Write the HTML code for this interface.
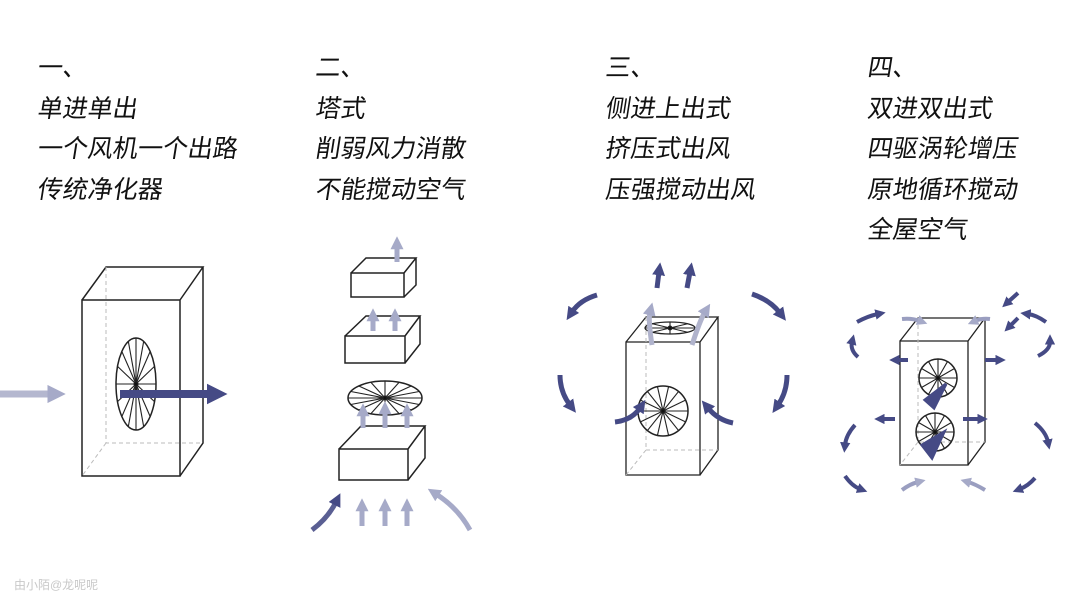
<!DOCTYPE html>
<html><head><meta charset="utf-8"><style>
html,body{margin:0;padding:0;background:#fff;width:1080px;height:608px;overflow:hidden}
.t{position:absolute;font-family:"Liberation Sans","Noto Sans CJK SC",sans-serif;font-size:25px;color:#111;line-height:40.5px}
.t div{transform:skewX(-9deg);transform-origin:left center;white-space:nowrap}
.wm{position:absolute;left:14px;top:576px;font-family:"Liberation Sans","Noto Sans CJK SC",sans-serif;font-size:12px;color:#c8c8c8}
svg{position:absolute;left:0;top:0}
</style></head><body>
<div class="t" style="left:38px;top:48px"><div>一、</div><div>单进单出</div><div>一个风机一个出路</div><div>传统净化器</div></div>
<div class="t" style="left:316px;top:48px"><div>二、</div><div>塔式</div><div>削弱风力消散</div><div>不能搅动空气</div></div>
<div class="t" style="left:606px;top:48px"><div>三、</div><div>侧进上出式</div><div>挤压式出风</div><div>压强搅动出风</div></div>
<div class="t" style="left:868px;top:48px"><div>四、</div><div>双进双出式</div><div>四驱涡轮增压</div><div>原地循环搅动</div><div>全屋空气</div></div>
<div class="wm">由小陌@龙呢呢</div>
<svg id="s" width="1080" height="608" viewBox="0 0 1080 608">
<defs>
<marker id="md" viewBox="0 0 4 4" markerWidth="2.6" markerHeight="2.6" refX="1" refY="2" orient="auto" markerUnits="strokeWidth"><path d="M0,0L4,2L0,4Z" fill="#454a85"/></marker>
<marker id="ml" viewBox="0 0 4 4" markerWidth="2.6" markerHeight="2.6" refX="1" refY="2" orient="auto" markerUnits="strokeWidth"><path d="M0,0L4,2L0,4Z" fill="#a6aac8"/></marker>
</defs>
<g fill="none" stroke="#222" stroke-width="1.5">
<path d="M82,300H180V476H82Z M82,300L106,267H203L180,300 M203,267V443L180,476"/>
<path d="M106,267V443H203 M106,443L82,476" stroke="#bbb" stroke-dasharray="4,3" stroke-width="1"/>
<ellipse cx="136" cy="384" rx="20" ry="46"/>
<path d="M351,273H404V297H351Z M351,273L366,258H416L404,273 M416,258V285L404,297"/>
<path d="M345,336H405V363H345Z M345,336L366,316H420L405,336 M420,316V344L405,363"/>
<ellipse cx="385" cy="398" rx="37" ry="17"/>
<path d="M339,449H408V480H339Z M339,449L361,426H425L408,449 M425,426V458L408,480"/>
<path d="M626,342H700V475H626Z M626,342L646,317H718L700,342 M718,317V450L700,475" stroke-width="1.3"/>
<path d="M646,317V450H718 M646,450L626,475" stroke="#bbb" stroke-dasharray="4,3" stroke-width="1"/>
<ellipse cx="670" cy="328" rx="25" ry="6" stroke-width="1.2"/>
<circle cx="663" cy="411" r="25"/>
<path d="M900,341H968V465H900Z M900,341L918,318H985L968,341 M985,318V442L968,465" stroke-width="1.3"/>
<path d="M918,318V442H985 M918,442L900,465" stroke="#bbb" stroke-dasharray="4,3" stroke-width="1"/>
<circle cx="938" cy="378" r="19"/>
<circle cx="935" cy="432" r="19"/>
</g>
<g id="spokes" stroke="#222" stroke-width="1.1"></g>
<g fill="none" stroke-width="6">
<path d="M0,394H52" stroke="#b4b7cf" stroke-width="7" marker-end="url(#ml)"/>
<path d="M120,394H212" stroke="#454a85" stroke-width="8" marker-end="url(#md)"/>
<g stroke="#a6aac8" stroke-width="5">
<path d="M397,262V246" marker-end="url(#ml)"/>
<path d="M373,331V318" marker-end="url(#ml)"/><path d="M395,331V318" marker-end="url(#ml)"/>
<path d="M363,428V413" marker-end="url(#ml)"/><path d="M385,428V411" marker-end="url(#ml)"/><path d="M407,428V413" marker-end="url(#ml)"/>
<path d="M362,526V508" marker-end="url(#ml)"/><path d="M385,526V508" marker-end="url(#ml)"/><path d="M407,526V508" marker-end="url(#ml)"/>
<path d="M470,530Q458,508 436,494" marker-end="url(#ml)"/>
</g>
<path d="M312,530Q328,518 336,502" stroke="#5a5f93" stroke-width="5" marker-end="url(#md)"/>
<g stroke="#b0b3cc" stroke-width="5"><path d="M652,345Q648,320 650,312" marker-end="url(#ml)"/><path d="M692,345Q700,320 705,312" marker-end="url(#ml)"/></g>
<g stroke="#454a85" stroke-width="5">
<path d="M657,288L659,272" marker-end="url(#md)"/><path d="M687,288L690,272" marker-end="url(#md)"/>
<path d="M597,295Q580,300 572,312" marker-end="url(#md)"/>
<path d="M752,294Q770,300 780,313" marker-end="url(#md)"/>
<path d="M560,375Q560,392 570,405" marker-end="url(#md)"/>
<path d="M787,375Q787,392 778,405" marker-end="url(#md)"/>
<path d="M615,422Q632,420 640,408" marker-end="url(#md)"/>
<path d="M733,423Q718,420 708,408" marker-end="url(#md)"/>
</g>
<g stroke="#454a85" stroke-width="4">
<path d="M1018,293L1008,302" marker-end="url(#md)"/><path d="M1018,318L1010,326" marker-end="url(#md)"/>
<path d="M857,322Q868,316 878,314" marker-end="url(#md)"/>
<path d="M1046,322Q1036,315 1028,314" marker-end="url(#md)"/>
<path d="M858,357Q850,350 852,342" marker-end="url(#md)"/>
<path d="M1038,356Q1050,350 1050,342" marker-end="url(#md)"/>
<path d="M908,360H897" marker-end="url(#md)"/><path d="M985,360H998" marker-end="url(#md)"/>
<path d="M895,419H882" marker-end="url(#md)"/><path d="M963,419H980" marker-end="url(#md)"/>
<path d="M855,425Q846,435 845,445" marker-end="url(#md)"/>
<path d="M1035,423Q1046,432 1048,442" marker-end="url(#md)"/>
<path d="M845,476Q852,486 860,489" marker-end="url(#md)"/>
<path d="M1035,478Q1028,486 1020,489" marker-end="url(#md)"/>
</g>
<g stroke="#9a9ec0" stroke-width="4">
<path d="M902,490Q910,484 918,482" marker-end="url(#ml)"/>
<path d="M985,490Q975,484 968,482" marker-end="url(#ml)"/>
<path d="M902,319Q912,318 920,321" marker-end="url(#ml)"/>
<path d="M990,319Q982,318 975,321" marker-end="url(#ml)"/>
</g>
<path d="M925,400L946,384 L934,408Z M922,445L944,432 L932,458Z" fill="#454a85" stroke="#454a85" stroke-width="3"/>
</g>
</svg>
<script>
var g=document.getElementById('spokes'),ns='http://www.w3.org/2000/svg';
function fan(cx,cy,rx,ry,n){for(var i=0;i<n;i++){var a=Math.PI*2*i/n,l=document.createElementNS(ns,'line');l.setAttribute('x1',cx);l.setAttribute('y1',cy);l.setAttribute('x2',cx+rx*Math.cos(a));l.setAttribute('y2',cy+ry*Math.sin(a));g.appendChild(l);}
var c=document.createElementNS(ns,'circle');c.setAttribute('cx',cx);c.setAttribute('cy',cy);c.setAttribute('r',2);c.setAttribute('fill','#111');g.appendChild(c);}
fan(136,384,20,46,16);fan(385,398,37,17,16);fan(670,328,25,6,8);fan(663,411,25,25,14);fan(938,378,19,19,12);fan(935,432,19,19,12);
</script>
</body></html>
